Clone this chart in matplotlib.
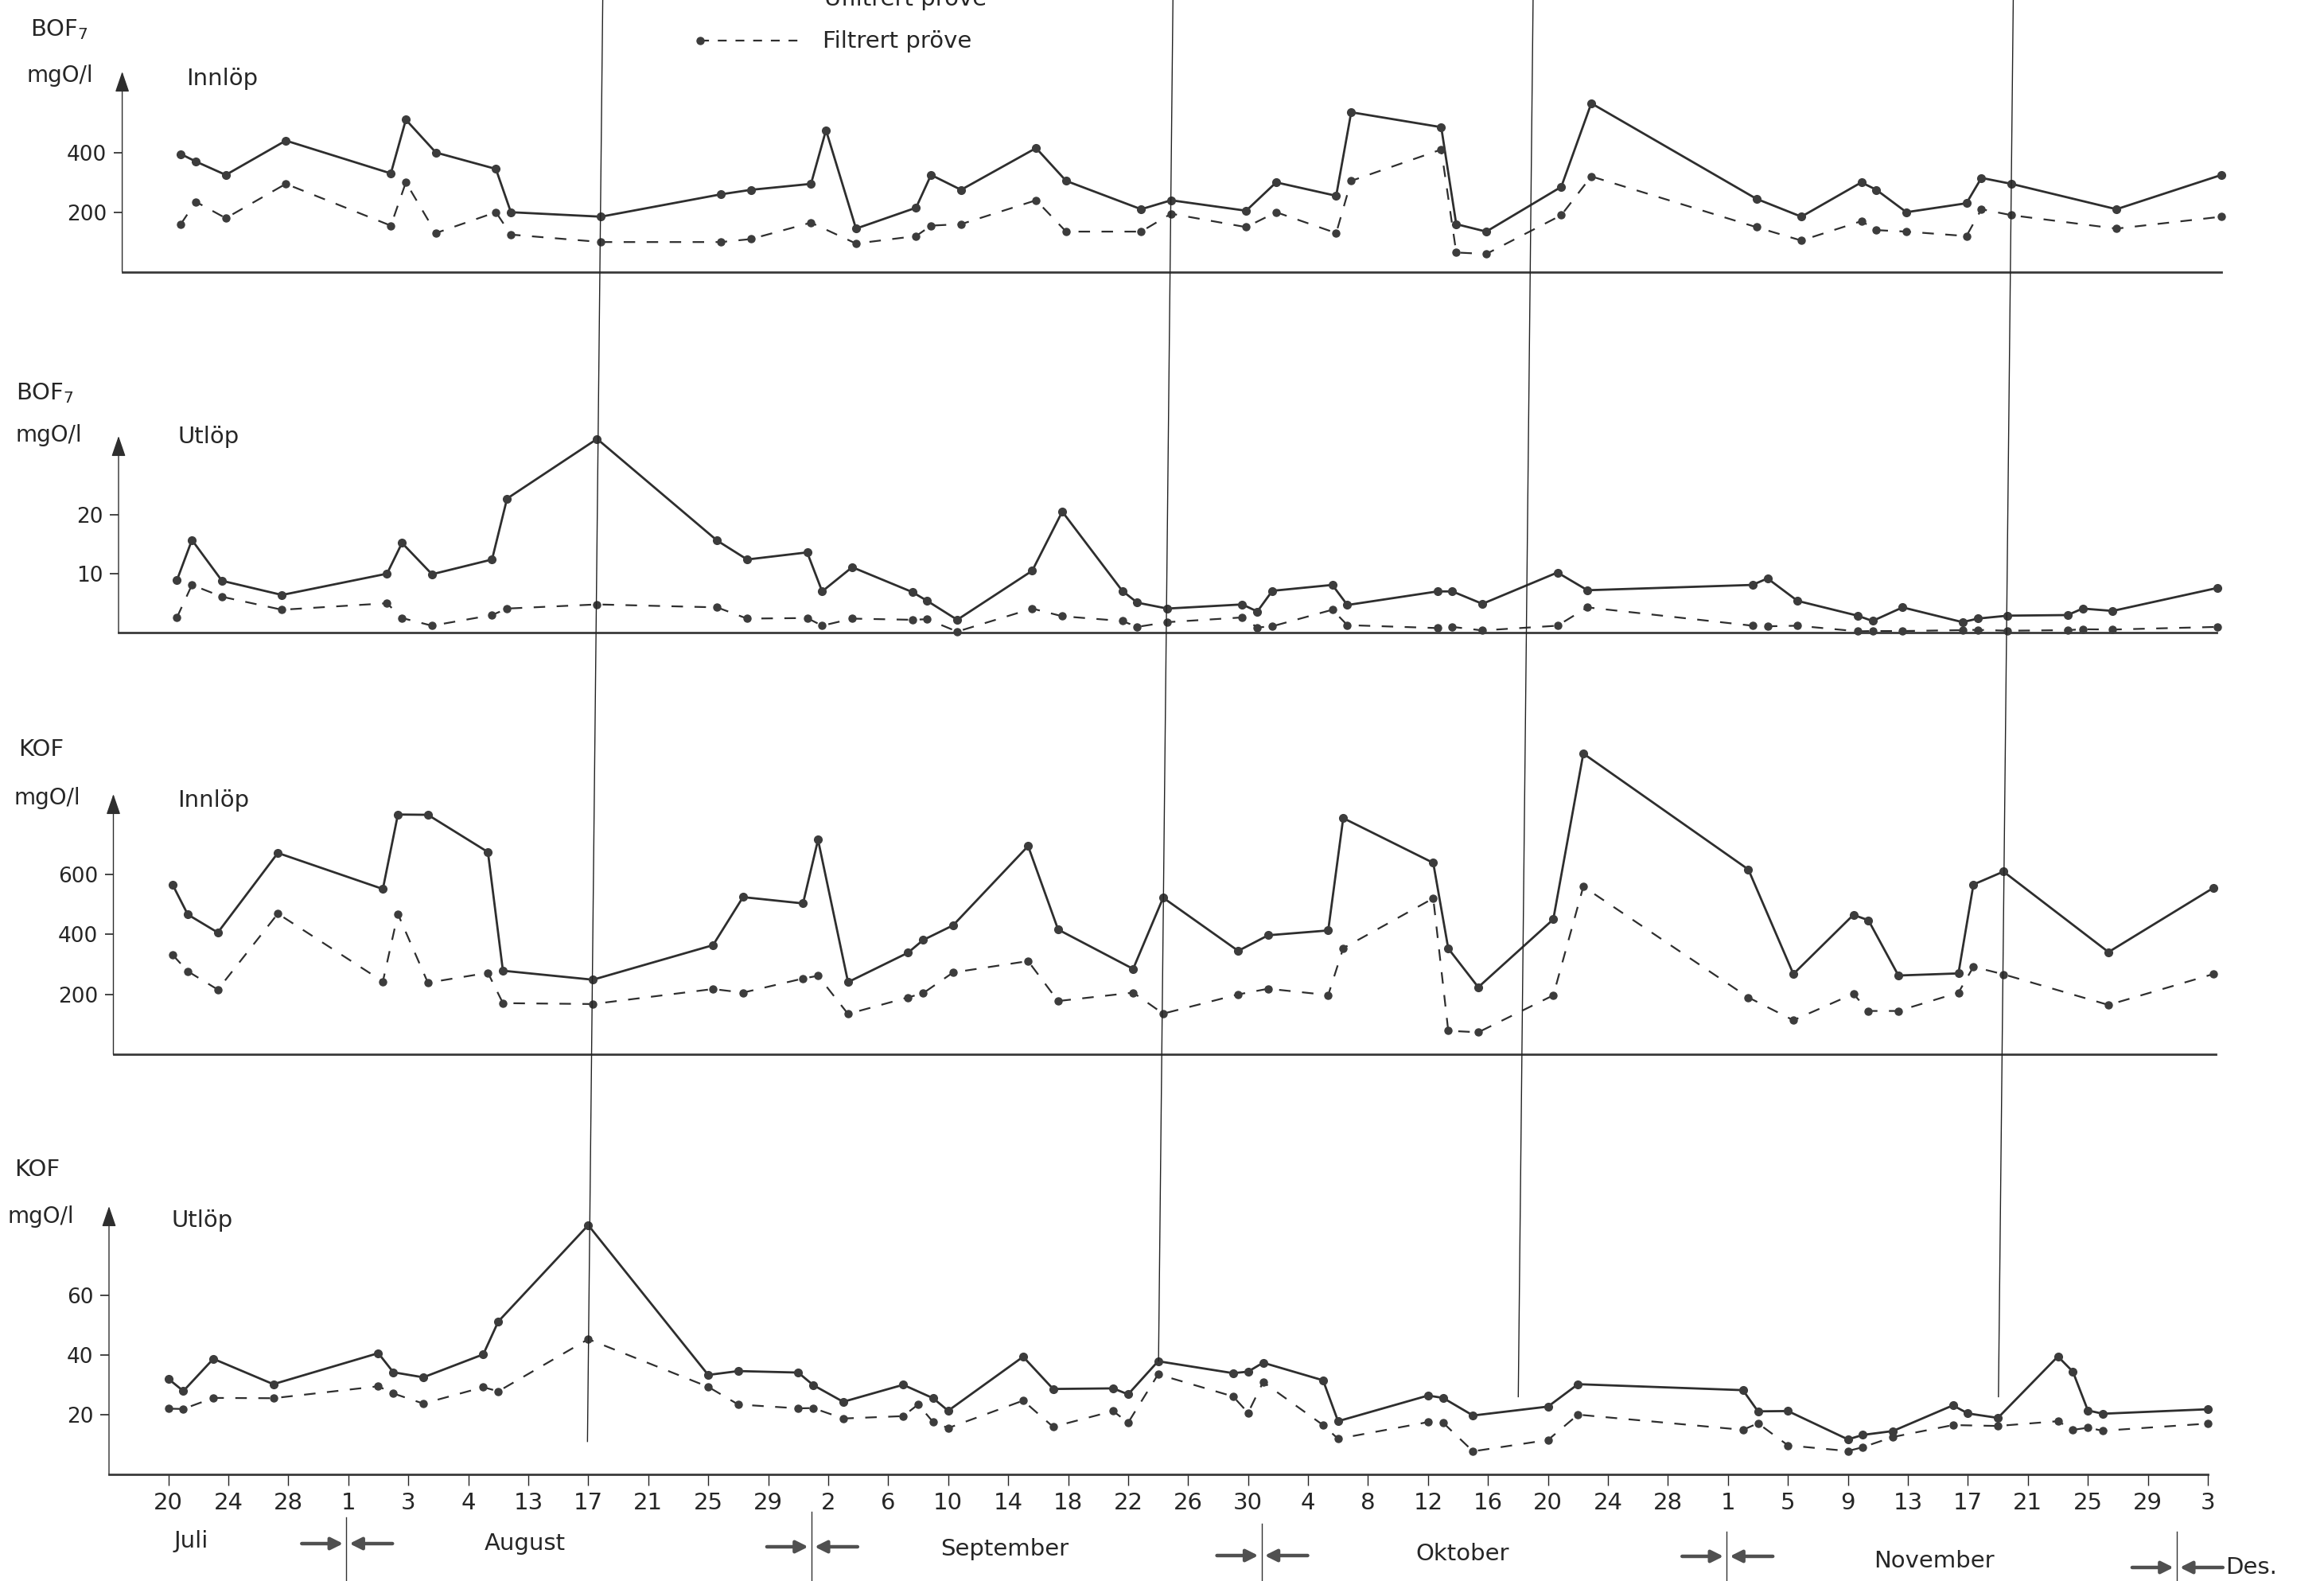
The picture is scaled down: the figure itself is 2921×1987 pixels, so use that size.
import numpy as np
import matplotlib
matplotlib.use("Agg")
import matplotlib.pyplot as plt

# ---------------- data (day 0 = 20 juli) ----------------
tick_days = np.arange(0, 137, 4)
tick_labels = ["20", "24", "28", "1", "3", "4", "13", "17", "21", "25", "29",
               "2", "6", "10", "14", "18", "22", "26", "30",
               "4", "8", "12", "16", "20", "24", "28",
               "1", "5", "9", "13", "17", "21", "25", "29", "3"]
month_names = ["Juli", "August", "September", "Oktober", "November", "Des."]
month_start = [12, 43, 73, 104, 134]          # 1 aug, 1 sep, 1 okt, 1 nov, 1 des
marked_days = [28, 66, 90, 122]               # long vertical marker lines
marked_ends = [11, 38, 26, 26]                # KOF utlop level where they stop

# BOF7 innlop
bof_inn_days_u = [0, 1, 3, 7, 14, 15, 17, 21, 22, 28, 36, 38, 42, 43, 45, 49, 50, 52, 57, 59,
                  64, 66, 71, 73, 77, 78, 84, 85, 87, 92, 94, 105, 108, 112, 113, 115, 119, 120,
                  122, 129, 136]
bof_inn_u = [395, 370, 325, 440, 330, 510, 400, 345, 200, 185, 260, 275, 295, 475, 145, 215, 325,
             275, 415, 305, 210, 240, 205, 300, 255, 535, 485, 160, 135, 285, 565, 245, 185, 300,
             275, 200, 230, 315, 295, 210, 325]
bof_inn_days_f = [0, 1, 3, 7, 14, 15, 17, 21, 22, 28, 36, 38, 42, 45, 49, 50, 52, 57, 59,
                  64, 66, 71, 73, 77, 78, 84, 85, 87, 92, 94, 105, 108, 112, 113, 115, 119, 120,
                  122, 129, 136]
bof_inn_f = [160, 235, 180, 295, 155, 300, 130, 200, 125, 100, 100, 110, 165, 95, 120, 155, 160,
             240, 135, 135, 195, 150, 200, 130, 305, 410, 65, 60, 190, 320, 150, 105, 170, 140,
             135, 120, 210, 190, 145, 185]

# BOF7 utlop
bof_ut_days = [0, 1, 3, 7, 14, 15, 17, 21, 22, 28, 36, 38, 42, 43, 45, 49, 50, 52, 57, 59,
               63, 64, 66, 71, 72, 73, 77, 78, 84, 85, 87, 92, 94, 105, 106, 108, 112, 113,
               115, 119, 120, 122, 126, 127, 129, 136]
bof_ut_u = [8.9, 15.7, 8.8, 6.4, 10.0, 15.2, 9.9, 12.4, 22.7, 32.8, 15.6, 12.4, 13.6, 7.0, 11.1,
            6.9, 5.4, 2.2, 10.5, 20.5, 7.1, 5.1, 4.1, 4.8, 3.6, 7.1, 8.1, 4.7, 7.0, 7.0, 4.9,
            10.2, 7.2, 8.1, 9.2, 5.4, 2.9, 2.0, 4.3, 1.8, 2.4, 2.9, 3.0, 4.1, 3.7, 7.6]
bof_ut_f = [2.6, 8.1, 6.1, 3.9, 5.0, 2.5, 1.2, 3.0, 4.1, 4.8, 4.3, 2.4, 2.5, 1.2, 2.4, 2.2, 2.3,
            0.2, 4.1, 2.8, 2.0, 1.0, 1.8, 2.6, 0.9, 1.1, 3.9, 1.3, 0.8, 1.0, 0.4, 1.2, 4.3, 1.2,
            1.1, 1.2, 0.25, 0.3, 0.3, 0.45, 0.5, 0.35, 0.45, 0.6, 0.55, 1.0]

# KOF innlop
kof_inn_days = [0, 1, 3, 7, 14, 15, 17, 21, 22, 28, 36, 38, 42, 43, 45, 49, 50, 52, 57, 59,
                64, 66, 71, 73, 77, 78, 84, 85, 87, 92, 94, 105, 108, 112, 113, 115, 119, 120,
                122, 129, 136]
kof_inn_u = [564, 466, 406, 671, 551, 799, 798, 674, 279, 249, 364, 524, 503, 715, 241, 339, 381,
             430, 694, 416, 285, 522, 345, 397, 413, 787, 638, 353, 224, 450, 1002, 616, 268,
             465, 447, 263, 270, 566, 609, 341, 555]
kof_inn_f = [331, 277, 216, 469, 243, 468, 239, 272, 171, 168, 218, 206, 253, 262, 135, 190, 204,
             273, 311, 178, 206, 136, 200, 219, 198, 354, 520, 79, 74, 197, 559, 190, 114, 202,
             145, 145, 206, 292, 267, 165, 268]

# KOF utlop
kof_ut_days_u = [0, 1, 3, 7, 14, 15, 17, 21, 22, 28, 36, 38, 42, 43, 45, 49, 51, 52, 57, 59,
                 63, 64, 66, 71, 72, 73, 77, 78, 84, 85, 87, 92, 94, 105, 106, 108, 112, 113,
                 115, 119, 120, 122, 126, 127, 128, 129, 136]
kof_ut_u = [32.0, 27.9, 38.7, 30.2, 40.6, 34.2, 32.5, 40.2, 51.2, 83.5, 33.3, 34.6, 34.1, 29.9,
            24.3, 30.0, 25.5, 21.3, 39.4, 28.6, 28.8, 26.8, 37.9, 33.9, 34.4, 37.4, 31.5, 17.8,
            26.4, 25.6, 19.7, 22.7, 30.2, 28.2, 21.1, 21.2, 11.7, 13.2, 14.5, 23.1, 20.4, 18.9,
            39.5, 34.4, 21.4, 20.3, 21.8]
kof_ut_days_f = [0, 1, 3, 7, 14, 15, 17, 21, 22, 28, 36, 38, 42, 43, 45, 49, 50, 51, 52, 57,
                 59, 63, 64, 66, 71, 72, 73, 77, 78, 84, 85, 87, 92, 94, 105, 106, 108, 112,
                 113, 115, 119, 122, 126, 127, 128, 129, 136]
kof_ut_f = [22.0, 21.9, 25.6, 25.5, 29.5, 27.1, 23.7, 29.2, 27.8, 45.3, 29.3, 23.4, 22.1, 22.2,
            18.7, 19.5, 23.4, 17.5, 15.5, 24.7, 15.9, 21.2, 17.3, 33.5, 26.1, 20.6, 30.9, 16.5,
            11.9, 17.5, 17.3, 7.7, 11.5, 20.0, 14.9, 17.1, 9.7, 7.8, 9.1, 12.5, 16.5, 16.2,
            17.8, 14.9, 15.6, 14.6, 17.0]

# ---------------- layout (pixels of the 2921x1987 sheet) ----------------
W, H, DPI = 2921, 1987, 100
X0, PX_DAY = 210.0, 18.86      # day 0 on the bottom axis, pixels per day
SKEW, AXIS_Y = 0.0106, 1840.0  # scan tilt
INK = "#2e2e2e"
DOT = "#3c3c3c"
TXT = "#262626"

plt.rcParams["font.family"] = ["DejaVu Sans"]
plt.rcParams["mathtext.default"] = "regular"

fig = plt.figure(figsize=(W / DPI, H / DPI), dpi=DPI)
fig.patch.set_facecolor("white")


def to_px(day, y):
    return X0 + PX_DAY * day + SKEW * (AXIS_Y - y)


def add_panel(left, right, zero_y, top_y, px_unit, yticks):
    shift = SKEW * (AXIS_Y - (zero_y + top_y) / 2)
    ax = fig.add_axes([left / W, 1 - zero_y / H, (right - left) / W, (zero_y - top_y) / H])
    ax.set_xlim((left - X0 - shift) / PX_DAY, (right - X0 - shift) / PX_DAY)
    ax.set_ylim(0, (zero_y - top_y) / px_unit)
    ax.patch.set_alpha(0)
    for s in ("top", "right", "left"):
        ax.spines[s].set_visible(False)
    ax.spines["bottom"].set_linewidth(2.0)
    ax.spines["bottom"].set_color("#3a3a3a")
    # y axis drawn as an arrow
    ax.annotate("", xy=(0, 1), xytext=(0, 0), xycoords="axes fraction",
                textcoords="axes fraction", annotation_clip=False,
                arrowprops=dict(arrowstyle="-|>,head_length=1.6,head_width=0.55",
                                lw=1.0, color=INK, shrinkA=0, shrinkB=0))
    ax.set_yticks(yticks)
    ax.set_yticklabels([str(t) for t in yticks])
    ax.tick_params(axis="y", length=8, width=1.2, pad=6, labelsize=19,
                   colors=TXT, direction="out")
    ax.set_xticks([])
    return ax


def draw_series(ax, du, vu, df, vf):
    ax.plot(du, vu, color=INK, lw=2.0, marker="o", ms=7, mfc=DOT,
            mec=DOT, clip_on=False, zorder=3)
    ax.plot(df, vf, color=INK, lw=1.6, ls=(0, (6.5, 6.5)), marker="o", ms=6.5,
            mfc=DOT, mec=DOT, clip_on=False, zorder=3)


ax1 = add_panel(153.6, 2792, 341.7, 90, 0.375, [200, 400])
draw_series(ax1, bof_inn_days_u, bof_inn_u, bof_inn_days_f, bof_inn_f)

ax2 = add_panel(149, 2786, 795.3, 548, 7.43, [10, 20])
draw_series(ax2, bof_ut_days, bof_ut_u, bof_ut_days, bof_ut_f)

ax3 = add_panel(142.5, 2785, 1325.3, 998, 0.3775, [200, 400, 600])
draw_series(ax3, kof_inn_days, kof_inn_u, kof_inn_days, kof_inn_f)

ax4 = add_panel(137, 2775, 1852.9, 1516, 3.75, [20, 40, 60])
draw_series(ax4, kof_ut_days_u, kof_ut_u, kof_ut_days_f, kof_ut_f)
ax4.set_xticks(tick_days)
ax4.set_xticklabels(tick_labels, family=["DejaVu Sans Condensed", "DejaVu Sans"])
ax4.tick_params(axis="x", length=10, width=1.0, pad=6, labelsize=21, colors=TXT)

# ---------------- overlay: titles, legend, marker lines, months ----------------
ov = fig.add_axes([0, 0, 1, 1])
ov.set_xlim(0, W)
ov.set_ylim(H, 0)
ov.axis("off")
ov.patch.set_alpha(0)

panel_text = [
    ("BOF$_7$", 38, 45, 34, 103, "Innlöp", 234, 107),
    ("BOF$_7$", 20, 502, 20, 555, "Utlöp", 223, 557),
    ("KOF", 23, 950, 17, 1011, "Innlöp", 223, 1014),
    ("KOF", 18, 1478, 10, 1537, "Utlöp", 215, 1542),
]
for name, nx, ny, ux, uy, where, wx, wy in panel_text:
    ov.text(nx, ny, name, fontsize=21, color=TXT, va="baseline")
    ov.text(ux, uy, "mgO/l", fontsize=20, color=TXT, va="baseline")
    ov.text(wx, wy, where, fontsize=21, color=TXT, va="baseline")

# legend (upper entry is cut by the sheet edge, as on the scan)
ov.plot([880, 1005], [-12, -12], color=INK, lw=2.0, clip_on=False)
ov.plot([880], [-12], "o", ms=7, color=DOT, clip_on=False)
ov.text(1036, 7, "Ufiltrert pröve", fontsize=21, color=TXT, va="baseline")
ov.plot([880, 1005], [51, 51], color=INK, lw=1.6, ls=(0, (5, 5)))
ov.plot([880], [51], "o", ms=6.5, color=DOT)
ov.text(1034, 60, "Filtrert pröve", fontsize=21, color=TXT, va="baseline")

# long vertical date lines
for d, v in zip(marked_days, marked_ends):
    y_end = H - ax4.transData.transform((d, v))[1]
    ov.plot([to_px(d, 0), to_px(d, y_end)], [0, y_end], color="#222222", lw=1.0)

# month separators with arrows
sep_top = [1907, 1900, 1915, 1925, 1925]
arrow_y = [1940, 1944, 1955, 1956, 1970]
for d, yt, ya in zip(month_start, sep_top, arrow_y):
    xs = to_px(d, ya)
    ov.plot([xs, xs], [yt, H], color="#333333", lw=1.0)
    ap = dict(arrowstyle="-|>,head_length=0.9,head_width=0.45", lw=3.2,
              color="#505050", shrinkA=0, shrinkB=0)
    ov.annotate("", xy=(xs - 4, ya), xytext=(xs - 56, ya), arrowprops=ap)
    ov.annotate("", xy=(xs + 4, ya), xytext=(xs + 58, ya), arrowprops=ap)

month_x = [240, 660, 1263, 1838, 2431, 2797]
month_y = [1937, 1940, 1947, 1953, 1962, 1970]
for i, (name, mx, my) in enumerate(zip(month_names, month_x, month_y)):
    ov.text(mx, my, name, fontsize=21, color=TXT, va="center",
            ha="left" if i == len(month_names) - 1 else "center")

fig.savefig("out.png", dpi=DPI, facecolor="white")
